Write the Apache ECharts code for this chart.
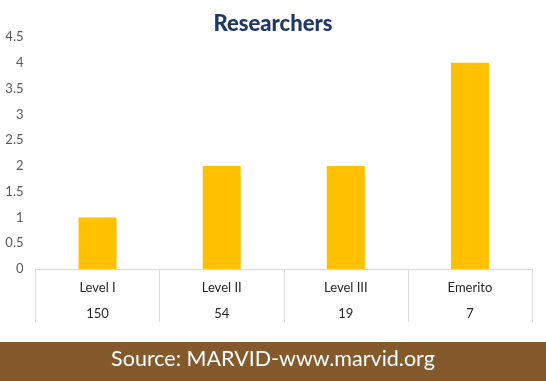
<!DOCTYPE html>
<html>
<head>
<meta charset="utf-8">
<script src="https://cdn.jsdelivr.net/npm/echarts@6/dist/echarts.min.js"></script>
<style>html,body{margin:0;padding:0;background:#fff;}#c{width:546px;height:381px;}</style>
</head>
<body>
<div id="c"></div>
<script>
const categories = ['Level I', 'Level II', 'Level III', 'Emerito'];
const counts = ['150', '54', '19', '7'];
const values = [1, 2, 2, 4];
const titleText = 'Researchers';
const sourceText = 'Source: MARVID-www.marvid.org';

const chart = echarts.init(document.getElementById('c'), null, {renderer: 'canvas'});
chart.setOption({
  animation: false,
  backgroundColor: '#ffffff',
  title: {
    text: titleText,
    left: 'center',
    top: 8,
    textStyle: {fontFamily: 'Lato', fontWeight: 900, fontSize: 22, color: '#1F3864'}
  },
  grid: {left: 35.5, right: 14, top: 37, bottom: 112, containLabel: false},
  xAxis: {
    type: 'category',
    data: categories,
    boundaryGap: true,
    axisLine: {show: true, lineStyle: {color: '#d9d9d9', width: 1}},
    axisTick: {show: true, alignWithLabel: false, length: 53, lineStyle: {color: '#d9d9d9'}},
    axisLabel: {
      margin: 6,
      interval: 0,
      formatter: function (v, i) { return '{a|' + v + '}\n{a|' + counts[i] + '}'; },
      rich: {a: {fontFamily: 'Lato', fontSize: 13, color: '#262626', lineHeight: 26}}
    }
  },
  yAxis: {
    type: 'value',
    min: 0, max: 4.5, interval: 0.5,
    splitLine: {show: false},
    axisLine: {show: false},
    axisTick: {show: false},
    axisLabel: {margin: 12, fontFamily: 'Lato', fontSize: 13, color: '#595959'}
  },
  series: [{
    type: 'bar',
    data: values,
    barWidth: 38,
    itemStyle: {color: '#FFC000'}
  }],
  graphic: [
    {type: 'rect', left: 0, top: 342, shape: {width: 546, height: 39}, style: {fill: '#845A2C'}, z: 10},
    {type: 'text', left: 'center', top: 348, z: 11,
     style: {text: sourceText, fill: '#ffffff', font: '21.5px Lato'}}
  ]
});
</script>
</body>
</html>
